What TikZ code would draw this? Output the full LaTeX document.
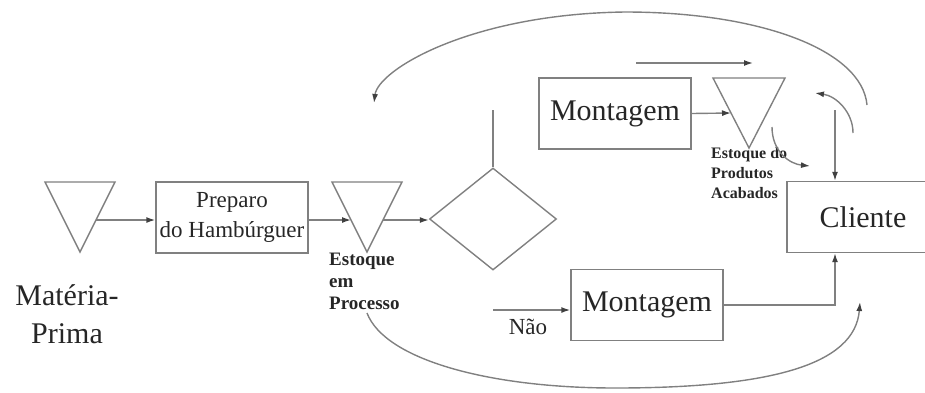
\documentclass[tikz,border=0pt]{standalone}
\usepackage{fontspec}
\setmainfont{Liberation Serif}
\usetikzlibrary{arrows.meta,shapes.geometric,calc}
\definecolor{linegray}{gray}{0.5}
\definecolor{txtgray}{gray}{0.15}
\tikzset{
  plain/.style={draw=linegray,line width=1.4pt},
  flow/.style={plain,-{Latex[length=9pt,width=6pt,color=black!75]}},
  procbox/.style={plain,minimum width=152pt,minimum height=71pt,inner sep=0pt,text=txtgray,align=center},
  stocklbl/.style={font=\bfseries\fontsize{19}{22}\selectfont,align=left,anchor=north west,inner sep=0pt,text=txtgray},
}

\begin{document}
\begin{tikzpicture}[x=1pt,y=-1pt]
\useasboundingbox (0,0) rectangle (925,392);
\clip (0,0) rectangle (925,392);
% estoques
\coordinate (mp-a) at (45,182); \coordinate (mp-b) at (115,182); \coordinate (mp-c) at (80,252);
\coordinate (ep-a) at (332,182); \coordinate (ep-b) at (402,182); \coordinate (ep-c) at (367,252);
\coordinate (pa-a) at (713,78); \coordinate (pa-b) at (785,78); \coordinate (pa-c) at (749,148);
\draw[plain] (mp-a) -- (mp-b) -- (mp-c) -- cycle;
\draw[plain] (ep-a) -- (ep-b) -- (ep-c) -- cycle;
\draw[plain] (pa-a) -- (pa-b) -- (pa-c) -- cycle;
% caixas
\node[procbox,font=\fontsize{23}{30}\selectfont] (prep) at (232,217.5) {Preparo\\do Hambúrguer};
\node[procbox,font=\fontsize{30}{36}\selectfont] (mont1) at (615,113.5) {Montagem};
\node[procbox,font=\fontsize{30}{36}\selectfont] (mont2) at (647,305) {Montagem};
\node[procbox,font=\fontsize{30}{36}\selectfont] (cli) at (863,217) {Cliente};
\node[diamond,plain,minimum width=127pt,minimum height=102pt,inner sep=0pt] (dec) at (493,219) {};
% textos
\node[font=\fontsize{30}{38}\selectfont,align=center,anchor=north,inner sep=0pt,text=txtgray] (mp-lbl) at (67,284) {Matéria-\\Prima};
\node[stocklbl] (ep-lbl) at (329,253) {Estoque\\em\\Processo};
\node[stocklbl,font=\bfseries\fontsize{16}{20}\selectfont] (pa-lbl) at (711,147) {Estoque do\\Produtos\\Acabados};
\node[font=\fontsize{23}{28}\selectfont,inner sep=0pt,text=txtgray] (nao) at (528,327) {Não};
% fluxo principal
\coordinate (mp-out) at ($(mp-b)!0.543!(mp-c)$);
\coordinate (ep-in) at ($(ep-a)!0.543!(ep-c)$);
\coordinate (ep-out) at ($(ep-b)!0.543!(ep-c)$);
\coordinate (pa-in) at ($(pa-a)!0.5!(pa-c)$);
\draw[flow] (mp-out) -- (mp-out -| prep.west);
\draw[flow] (prep.east |- ep-in) -- (ep-in);
\draw[flow] (ep-out) -- (ep-out -| dec.west);
\coordinate (dec-up) at (493,110);
\draw[plain] (dec.north) -- (dec-up);
\draw[flow] (mont1.east) -- (pa-in);
\coordinate (top-s) at (636,63); \coordinate (top-e) at (753,63);
\draw[flow] (top-s) -- (top-e);
\coordinate (cli-in) at (835,110);
\draw[flow] (cli-in) -- (cli-in |- cli.north);
\draw[flow] (mont2.east) -| ([xshift=-28pt]cli.south);
\coordinate (nao-s) at (493,310);
\draw[flow] (nao-s) -- (nao-s -| mont2.west);
% retornos
\coordinate (ret-s) at (867,105); \coordinate (ret-m) at (625,12); \coordinate (ret-e) at (374,103);
\draw[flow] (ret-s) .. controls (862,50) and (760,12) .. (ret-m) .. controls (470,14) and (378,70) .. (ret-e);
\coordinate (bot-s) at (367,313); \coordinate (bot-m) at (615,388); \coordinate (bot-e) at (860,302);
\draw[flow] (bot-s) .. controls (385,360) and (490,388) .. (bot-m) .. controls (770,388) and (855,365) .. (bot-e);
\coordinate (sa-s) at (772,127); \coordinate (sa-e) at (810,166);
\draw[flow] (sa-s) .. controls (772,152) and (790,164) .. (sa-e);
\coordinate (sb-s) at (853,133); \coordinate (sb-e) at (815,93);
\draw[flow] (sb-s) .. controls (853,112) and (836,96) .. (sb-e);
\end{tikzpicture}
\end{document}
